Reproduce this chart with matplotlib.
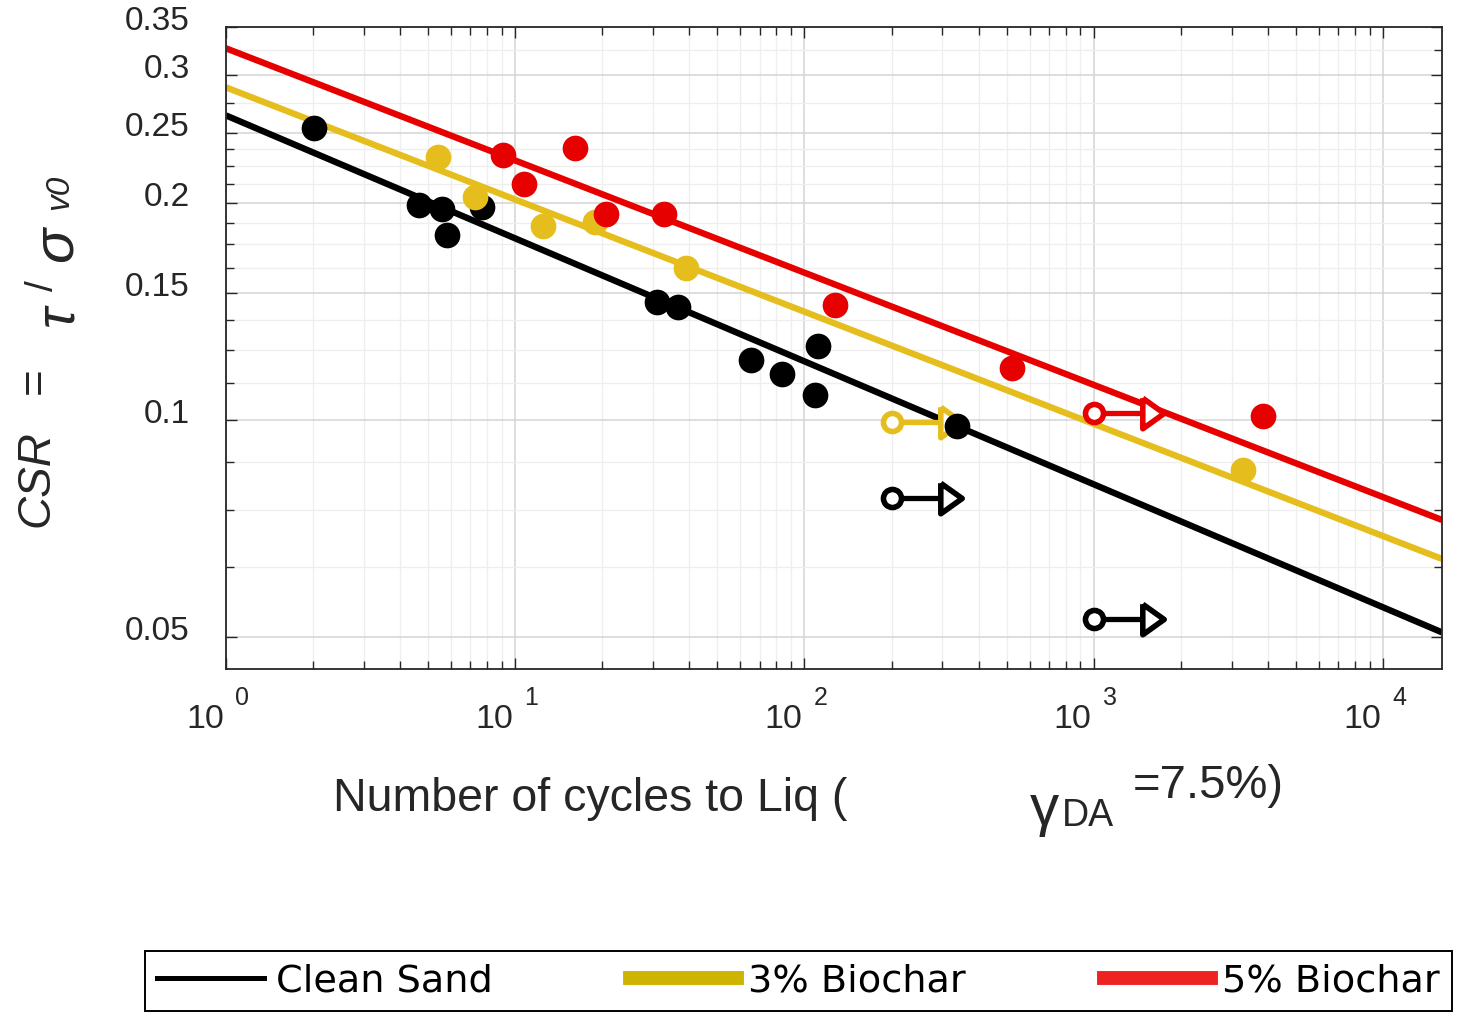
import numpy as np
import matplotlib.pyplot as plt
from matplotlib.lines import Line2D
from matplotlib.ticker import FixedLocator, FixedFormatter, NullFormatter
from matplotlib.transforms import ScaledTranslation, blended_transform_factory

plt.rcParams['font.family'] = ['Liberation Sans', 'DejaVu Sans']

# cycles to liquefaction and CSR
cs_n = [2.01, 4.65, 5.58, 5.81, 7.67, 30.9, 36.5, 65.3, 83.5, 111, 109, 336]
cs_csr = [0.254, 0.1986, 0.196, 0.1805, 0.1974, 0.1458, 0.1435, 0.1211, 0.1158, 0.1266, 0.1083, 0.0981]
b3_n = [5.4, 7.26, 12.5, 18.9, 38.9, 3277]
b3_csr = [0.2309, 0.2038, 0.1858, 0.1882, 0.1625, 0.0852]
b5_n = [9.07, 10.7, 16.1, 20.6, 32.7, 127, 521, 3843]
b5_csr = [0.2324, 0.2125, 0.2376, 0.1931, 0.1931, 0.1443, 0.1181, 0.1013]

# tests that did not liquefy (run-outs)
cs_run_n = [200, 1000]
cs_run_csr = [0.078, 0.053]
b3_run_n = [200]
b3_run_csr = [0.0994]
b5_run_n = [1000]
b5_run_csr = [0.1022]

# trend lines, value at both ends of the x range
fit_n = [1, 16000]
cs_fit = [0.264, 0.0508]
b3_fit = [0.2887, 0.0642]
b5_fit = [0.327, 0.0727]

labels = ['Clean Sand', '3% Biochar', '5% Biochar']
y_ticks = [0.05, 0.1, 0.15, 0.2, 0.25, 0.3, 0.35]
y_tick_labels = ['0.05', '0.1', '0.15', '0.2', '0.25', '0.3', '0.35']
y_minor = [0.0625, 0.075, 0.0875, 0.1125, 0.125, 0.1375, 0.1625, 0.175, 0.1875,
           0.2125, 0.225, 0.2375, 0.275, 0.325]
x_exp = [0, 1, 2, 3, 4]

black = '#000000'
yellow = '#E5BE1E'
red = '#E60000'
txt = '#262626'

fig = plt.figure(figsize=(14.6, 10.16), dpi=100)
W, H = 1460, 1016
ax = fig.add_axes([226 / W, 1 - 669 / H, (1442 - 226) / W, (669 - 27) / H])
ax.set_xscale('log')
ax.set_yscale('log')
ax.set_xlim(1, 16000)
ax.set_ylim(0.0452, 0.35)

# trend lines
for yy, c in zip([cs_fit, b3_fit, b5_fit], [black, yellow, red]):
    ax.plot(fit_n, yy, color=c, lw=4.6, zorder=2, solid_capstyle='butt')

# run-outs: open circle with arrow
tri = [(-0.7, 1), (0.7, 0), (-0.7, -1), (-0.7, 1)]
for nn, vv, c in zip([cs_run_n, b3_run_n, b5_run_n], [cs_run_csr, b3_run_csr, b5_run_csr],
                     [black, yellow, red]):
    for n0, v0 in zip(nn, vv):
        ax.plot([n0, n0 * 1.6], [v0, v0], color=c, lw=3.8, zorder=3)
        ax.plot(n0, v0, 'o', ms=13, mfc='white', mec=c, mew=4, zorder=4)
        ax.plot(n0 * 1.6, v0, marker=tri, ms=22, mfc='white', mec=c, mew=4, zorder=4)

# test points
ax.plot(cs_n, cs_csr, 'o', color=black, ms=18.5, mew=0, zorder=5)
ax.plot(b3_n, b3_csr, 'o', color=yellow, ms=18.5, mew=0, zorder=5)
ax.plot(b5_n, b5_csr, 'o', color=red, ms=18.5, mew=0, zorder=5)

# axes styling
ax.yaxis.set_major_locator(FixedLocator(y_ticks))
ax.yaxis.set_major_formatter(FixedFormatter(y_tick_labels))
ax.yaxis.set_minor_locator(FixedLocator(y_minor))
ax.yaxis.set_minor_formatter(NullFormatter())
ax.xaxis.set_major_locator(FixedLocator([10.0 ** e for e in x_exp]))
ax.xaxis.set_major_formatter(NullFormatter())
ax.xaxis.set_minor_formatter(NullFormatter())

ax.grid(which='major', color='#d4d4d4', lw=1.1)
ax.grid(which='minor', color='#eeeeee', lw=0.9)
ax.set_axisbelow(True)
for s in ax.spines.values():
    s.set_color(txt)
    s.set_linewidth(1.3)
ax.tick_params(which='both', direction='in', top=True, right=True, color=txt, width=1)
ax.tick_params(which='major', length=8)
ax.tick_params(which='minor', length=6)
ax.tick_params(axis='y', labelsize=24, pad=26, labelcolor=txt)
shift = ScaledTranslation(0, 9 / 100, fig.dpi_scale_trans)
for lab in ax.get_yticklabels():
    lab.set_transform(lab.get_transform() + shift)

# x tick labels in "10 ^n" form
trans = blended_transform_factory(ax.transData, ax.transAxes)
for e in x_exp:
    ax.text(10.0 ** e, 0, '10', fontsize=24.5, color=txt, ha='right', va='baseline',
            transform=trans + ScaledTranslation(-2 / 100, -59 / 100, fig.dpi_scale_trans))
    ax.text(10.0 ** e, 0, str(e), fontsize=18, color=txt, ha='left', va='baseline',
            transform=trans + ScaledTranslation(9 / 100, -36 / 100, fig.dpi_scale_trans))

# x label
fig.text(333 / W, 1 - 811 / H, 'Number of cycles to Liq (', fontsize=33.5, color=txt, va='baseline')
fig.text(1030 / W, 1 - 825 / H, 'γ', fontsize=42, color=txt, va='baseline')
fig.text(1062 / W, 1 - 826 / H, 'DA', fontsize=27, color=txt, va='baseline')
fig.text(1133 / W, 1 - 798 / H, '=7.5%)', fontsize=34, color=txt, va='baseline')

# y label
def ylab(x, y, s, size, style='normal'):
    fig.text(x / W, 1 - y / H, s, fontsize=size, style=style, color=txt, rotation=90,
             rotation_mode='anchor', ha='left', va='baseline')

ylab(48, 527, 'CSR', 33, 'italic')
ylab(48, 394, '=', 33)
ylab(72, 326, 'τ', 40, 'italic')
ylab(53, 291, '/', 28)
ylab(72, 262, 'σ', 42, 'italic')
ylab(68, 210, 'v0', 24, 'italic')

# legend
handles = [Line2D([], [], color='#000000', lw=3.6),
           Line2D([], [], color='#CCB400', lw=10),
           Line2D([], [], color='#EE2222', lw=10)]
leg = fig.legend(handles, labels, loc='center', bbox_to_anchor=(798.5 / W, 1 - 981 / H),
                 ncol=3, prop={'family': 'DejaVu Sans', 'size': 27.5}, handlelength=2.8,
                 handletextpad=0.3, columnspacing=3.6, borderpad=0.32, fancybox=False,
                 framealpha=1, edgecolor='black')
leg.get_frame().set_linewidth(1.4)

fig.savefig('out.png', dpi=100)
